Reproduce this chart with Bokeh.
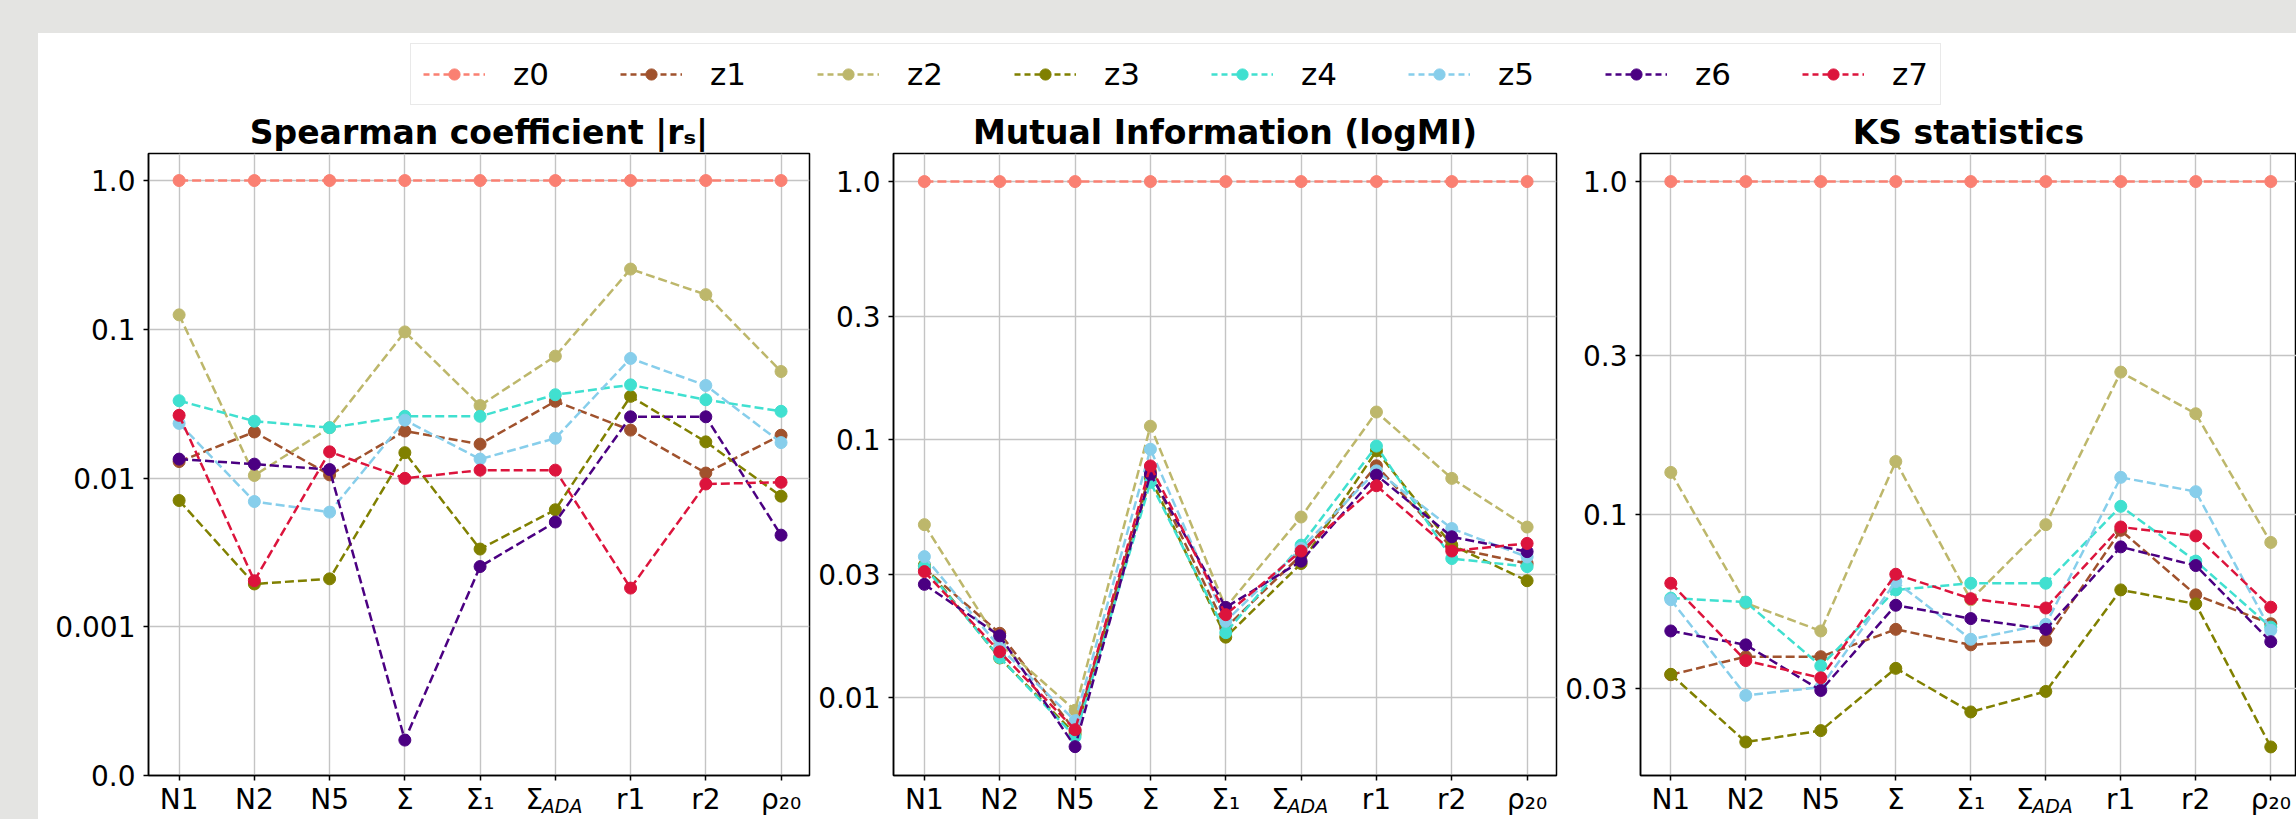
import json
from bokeh.plotting import figure
from bokeh.models import (FixedTicker, CustomJSTickFormatter, Legend, LegendItem,
                          Range1d, Spacer, LinearAxis)
from bokeh.layouts import row, column
from bokeh.embed import file_html
from bokeh.resources import INLINE

# ---------------- data ----------------
categories = ["N1", "N2", "N5", "Σ", "Σ₁", "Σ_ADA", "r1", "r2", "ρ₂₀"]
series_names = ["z0", "z1", "z2", "z3", "z4", "z5", "z6", "z7"]
colors = ["salmon", "sienna", "darkkhaki", "olive", "turquoise", "skyblue", "indigo", "crimson"]

spearman_z0 = [1.0, 1.0, 1.0, 1.0, 1.0, 1.0, 1.0, 1.0, 1.0]
spearman_z1 = [0.0129, 0.0204, 0.0105, 0.0207, 0.0169, 0.0328, 0.0210, 0.0108, 0.0194]
spearman_z2 = [0.125, 0.0104, 0.0218, 0.096, 0.0307, 0.066, 0.254, 0.171, 0.052]
spearman_z3 = [0.00706, 0.00194, 0.0021, 0.0148, 0.00333, 0.00612, 0.0354, 0.0175, 0.00755]
spearman_z4 = [0.0331, 0.0241, 0.0218, 0.026, 0.026, 0.0363, 0.0423, 0.0336, 0.0281]
spearman_z5 = [0.0233, 0.00695, 0.0059, 0.0245, 0.0134, 0.0185, 0.0637, 0.0419, 0.0173]
spearman_z6 = [0.0134, 0.0124, 0.0114, 0.000173, 0.00254, 0.00506, 0.0258, 0.0258, 0.00413]
spearman_z7 = [0.0264, 0.00204, 0.015, 0.00995, 0.0113, 0.0113, 0.00182, 0.00912, 0.00936]

mi_z0 = [1.0, 1.0, 1.0, 1.0, 1.0, 1.0, 1.0, 1.0, 1.0]
mi_z1 = [0.0316, 0.0177, 0.0074, 0.075, 0.0186, 0.0356, 0.079, 0.038, 0.033]
mi_z2 = [0.0467, 0.0161, 0.0089, 0.1125, 0.0223, 0.050, 0.1277, 0.0706, 0.0457]
mi_z3 = [0.0325, 0.0142, 0.0072, 0.071, 0.0171, 0.0330, 0.0903, 0.0389, 0.0283]
mi_z4 = [0.0321, 0.01425, 0.00702, 0.0681, 0.0178, 0.0389, 0.0942, 0.0345, 0.0321]
mi_z5 = [0.0351, 0.0156, 0.0081, 0.0916, 0.0197, 0.0378, 0.0755, 0.0451, 0.035]
mi_z6 = [0.0274, 0.0173, 0.00643, 0.0733, 0.0223, 0.0337, 0.0727, 0.0419, 0.0367]
mi_z7 = [0.0307, 0.015, 0.00748, 0.0789, 0.0209, 0.0369, 0.0661, 0.0369, 0.0395]

ks_z0 = [1.0, 1.0, 1.0, 1.0, 1.0, 1.0, 1.0, 1.0, 1.0]
ks_z1 = [0.0331, 0.0375, 0.0375, 0.0453, 0.0407, 0.042, 0.0898, 0.0575, 0.0471]
ks_z2 = [0.134, 0.0543, 0.0448, 0.1445, 0.0556, 0.0934, 0.268, 0.201, 0.0826]
ks_z3 = [0.0332, 0.0208, 0.0225, 0.0346, 0.0256, 0.0295, 0.0595, 0.054, 0.0201]
ks_z4 = [0.0562, 0.0547, 0.0352, 0.0595, 0.0623, 0.0623, 0.106, 0.0726, 0.046]
ks_z5 = [0.0556, 0.0287, 0.0304, 0.063, 0.0423, 0.0469, 0.1295, 0.1173, 0.045]
ks_z6 = [0.0448, 0.0407, 0.0297, 0.0535, 0.0488, 0.0453, 0.0801, 0.0704, 0.0416]
ks_z7 = [0.0623, 0.0365, 0.0324, 0.0663, 0.056, 0.0525, 0.0919, 0.0864, 0.0528]

titles = ["Spearman coefficient |rₛ|", "Mutual Information (logMI)", "KS statistics"]

spearman_ticks = [0.0001, 0.001, 0.01, 0.1, 1.0]
spearman_tick_labels = ["0.0", "0.001", "0.01", "0.1", "1.0"]
mi_ticks = [0.01, 0.03, 0.1, 0.3, 1.0]
mi_tick_labels = ["0.01", "0.03", "0.1", "0.3", "1.0"]
ks_ticks = [0.03, 0.1, 0.3, 1.0]
ks_tick_labels = ["0.03", "0.1", "0.3", "1.0"]

panels = [
    dict(title=titles[0],
         series=[spearman_z0, spearman_z1, spearman_z2, spearman_z3,
                 spearman_z4, spearman_z5, spearman_z6, spearman_z7],
         ticks=spearman_ticks, labels=spearman_tick_labels,
         y_range=(0.0001, 1.52), x_range=(-0.407, 8.378),
         width=777, border_left=110, border_right=6),
    dict(title=titles[1],
         series=[mi_z0, mi_z1, mi_z2, mi_z3, mi_z4, mi_z5, mi_z6, mi_z7],
         ticks=mi_ticks, labels=mi_tick_labels,
         y_range=(0.00497, 1.285), x_range=(-0.41, 8.39),
         width=747, border_left=77, border_right=6),
    dict(title=titles[2],
         series=[ks_z0, ks_z1, ks_z2, ks_z3, ks_z4, ks_z5, ks_z6, ks_z7],
         ticks=ks_ticks, labels=ks_tick_labels,
         y_range=(0.0165, 1.214), x_range=(-0.404, 8.343),
         width=734, border_left=75, border_right=0),
]

FONT = "DejaVu Sans"
GREY_BG = "#e4e4e2"
x_idx = list(range(len(categories)))

# main tick labels; a label with a subscript word keeps its base (padded with
# en spaces so it sits left of the subscript), the subscript goes on a 2nd axis
main_labels, sub_labels = [], []
for c in categories:
    if "_" in c:
        b, s = c.split("_", 1)
        main_labels.append(b + "\u2002\u2002\u2002")
        sub_labels.append(s)
    else:
        main_labels.append(c)
        sub_labels.append("")
sub_idx = [i for i, s in enumerate(sub_labels) if s]

figs = []
for pan in panels:
    xr = Range1d(*pan["x_range"])
    p = figure(width=pan["width"], height=711, y_axis_type="log",
               x_range=xr, y_range=Range1d(*pan["y_range"]),
               output_backend="svg", toolbar_location=None,
               min_border_left=pan["border_left"], min_border_right=pan["border_right"],
               min_border_top=44, min_border_bottom=40)
    p.title.text = pan["title"]
    p.title.text_font = FONT
    p.title.text_font_size = "33px"
    p.title.text_font_style = "bold"
    p.title.text_color = "black"
    p.title.align = "center"
    p.title.standoff = 4
    p.background_fill_color = "white"
    p.border_fill_color = "white"
    p.outline_line_color = "black"
    p.outline_line_width = 1.5

    for vals, col in zip(pan["series"], colors):
        p.line(x_idx, vals, line_color=col, line_width=2.5, line_dash="9 4")
        p.scatter(x_idx, vals, size=12, fill_color=col, line_color=col)

    yt = FixedTicker(ticks=pan["ticks"], minor_ticks=[])
    p.yaxis.ticker = yt
    p.ygrid.ticker = yt
    p.yaxis.formatter = CustomJSTickFormatter(code=(
        "const t = %s; const l = %s;"
        "for (let i = 0; i < t.length; i++) {"
        "  if (Math.abs(Math.log10(t[i]) - Math.log10(tick)) < 1e-6) return l[i]; }"
        "return '';") % (json.dumps(pan["ticks"]), json.dumps(pan["labels"])))
    xt = FixedTicker(ticks=x_idx, minor_ticks=[])
    p.xaxis.ticker = xt
    p.xgrid.ticker = xt
    p.xaxis.formatter = CustomJSTickFormatter(code=(
        "const l = %s; const v = l[Math.round(tick)]; return v === undefined ? '' : v;")
        % json.dumps(main_labels))

    for ax in (p.xaxis[0], p.yaxis[0]):
        ax.major_label_text_font = FONT
        ax.major_label_text_font_size = "28px"
        ax.major_label_text_color = "black"
        ax.axis_line_color = "black"
        ax.axis_line_width = 1.5
        ax.major_tick_line_color = "black"
        ax.major_tick_line_width = 1.5
        ax.major_tick_out = 5
        ax.major_tick_in = 0
        ax.minor_tick_out = 0
        ax.minor_tick_in = 0
    p.xaxis.major_label_standoff = 2
    p.yaxis.major_label_standoff = 8

    for g in (p.xgrid[0], p.ygrid[0]):
        g.grid_line_color = "#c4c4c4"
        g.grid_line_width = 1.4

    if sub_idx:
        shift = 0.09
        p.extra_x_ranges = {"sub": Range1d(pan["x_range"][0] - shift, pan["x_range"][1] - shift)}
        sub_ax = LinearAxis(x_range_name="sub",
                            ticker=FixedTicker(ticks=sub_idx, minor_ticks=[]),
                            formatter=CustomJSTickFormatter(code=(
                                "const l = %s; const v = l[Math.round(tick)];"
                                "return v === undefined ? '' : v;") % json.dumps(sub_labels)),
                            axis_line_color=None, major_tick_line_color=None,
                            minor_tick_line_color=None,
                            major_tick_out=0, major_tick_in=0, minor_tick_out=0, minor_tick_in=0,
                            major_label_standoff=-24,
                            major_label_text_font=FONT, major_label_text_font_size="19px",
                            major_label_text_font_style="italic",
                            major_label_text_color="black")
        p.add_layout(sub_ax, "below")
    figs.append(p)

# ---------------- legend figure ----------------
lf = figure(width=2258, height=75, x_range=Range1d(100, 101), y_range=Range1d(100, 101),
            output_backend="svg", toolbar_location=None,
            min_border_left=0, min_border_right=0, min_border_top=0, min_border_bottom=0)
lf.axis.visible = False
lf.grid.visible = False
lf.outline_line_color = None
lf.background_fill_color = "white"
lf.border_fill_color = "white"
items = []
for name, col, vals in zip(series_names, colors, panels[0]["series"]):
    # proxy renderers (outside the visible range) that only feed the legend
    rl = lf.line(x_idx, vals, line_color=col, line_width=2.5, line_dash="6 4")
    rs = lf.scatter(x_idx, vals, size=12, fill_color=col, line_color=col)
    items.append(LegendItem(label=name, renderers=[rl, rs], index=0))
leg = Legend(items=items, location=(372, 3), orientation="horizontal",
             label_text_font=FONT, label_text_font_size="31px", label_text_color="black",
             glyph_width=62, glyph_height=28, label_standoff=28, spacing=71,
             padding=12, margin=0, border_line_color="#d4d4d4", border_line_width=1.5,
             background_fill_color="white", background_fill_alpha=1.0)
lf.add_layout(leg)

white_col = column(lf, row(*figs))
page = column(
    Spacer(width=2296, height=33, styles={"background-color": GREY_BG}),
    row(Spacer(width=38, height=786, styles={"background-color": GREY_BG}), white_col),
)

open("out.html", "w").write(file_html(page, INLINE))
